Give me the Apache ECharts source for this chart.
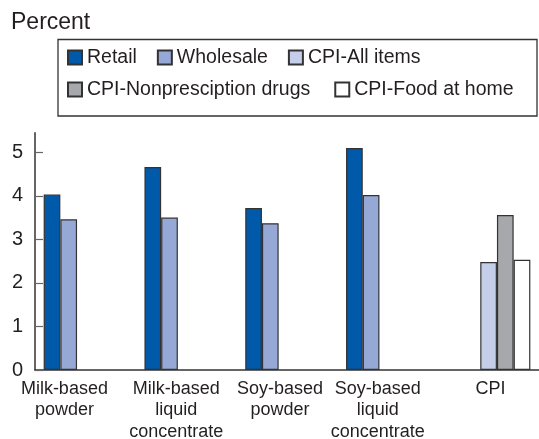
<!DOCTYPE html>
<html>
<head>
<meta charset="utf-8">
<script src="https://cdn.jsdelivr.net/npm/echarts@6/dist/echarts.min.js"></script>
<style>
  html, body { margin: 0; padding: 0; background: #fff; }
  #chart { width: 539px; height: 439px; }
</style>
</head>
<body>
<div id="chart"></div>
<script>
const categories = ['Milk-based\npowder', 'Milk-based\nliquid\nconcentrate', 'Soy-based\npowder', 'Soy-based\nliquid\nconcentrate', 'CPI']
// shift of each label from the centre of its band (px), as laid out in the source
const labelShift = [-21, -10, -7, -10, 2]

const retail = [4.03, 4.66, 3.72, 5.10, null]
const wholesale = [3.46, 3.50, 3.37, 4.02, null]
const cpiAll = [null, null, null, null, 2.48]
const cpiDrugs = [null, null, null, null, 3.56]
const cpiFood = [null, null, null, null, 2.53]

const yTicks = [0, 1, 2, 3, 4, 5]

const font = 'Liberation Sans, Arial, Helvetica, sans-serif'
const ink = '#231f20'
const edge = '#333'

const chart = echarts.init(document.getElementById('chart'))

function bar(name, data, color) {
  return {
    name: name,
    type: 'bar',
    data: data,
    barWidth: 16.7,
    barGap: '0%',
    itemStyle: { color: color, borderColor: edge, borderWidth: 1.2 }
  }
}

chart.setOption({
  animation: false,
  textStyle: { fontFamily: font, color: ink },
  title: {
    text: 'Percent',
    left: 11,
    top: 11,
    padding: 0,
    textStyle: { fontFamily: font, fontSize: 23, fontWeight: 'normal', color: ink }
  },
  graphic: [{
    type: 'rect',
    shape: { x: 58, y: 39.5, width: 479, height: 76.5 },
    style: { fill: 'none', stroke: edge, lineWidth: 1.3 }
  }],
  legend: [{
    data: ['Retail', 'Wholesale', 'CPI-All items'],
    left: 67,
    top: 47.5,
    padding: 0,
    itemWidth: 14,
    itemHeight: 14,
    itemGap: 20,
    icon: 'rect',
    textStyle: { fontFamily: font, fontSize: 19.5, color: ink, lineHeight: 20 }
  }, {
    data: ['CPI-Nonpresciption drugs', 'CPI-Food at home'],
    left: 67,
    top: 79.5,
    padding: 0,
    itemWidth: 14,
    itemHeight: 14,
    itemGap: 24,
    icon: 'rect',
    textStyle: { fontFamily: font, fontSize: 19.5, color: ink, lineHeight: 20 }
  }],
  grid: {
    left: 35,
    right: 0,
    top: 132.7,
    bottom: 69,
    outerBoundsMode: 'none'
  },
  xAxis: {
    type: 'category',
    data: categories.map((c, i) => ({
      value: c,
      textStyle: {
        padding: labelShift[i] < 0 ? [0, -2 * labelShift[i], 0, 0] : [0, 0, 0, 2 * labelShift[i]]
      }
    })),
    axisLine: { lineStyle: { color: edge, width: 1.5 } },
    axisTick: { show: false },
    axisLabel: {
      interval: 0,
      margin: 8,
      fontFamily: font,
      fontSize: 18,
      lineHeight: 21.5,
      color: ink
    }
  },
  yAxis: {
    type: 'value',
    min: 0,
    max: 5.45,
    axisLine: { show: true, lineStyle: { color: edge, width: 1.5 } },
    axisTick: { show: true, inside: true, length: 8, customValues: yTicks, lineStyle: { color: '#666', width: 1.2 } },
    axisLabel: { customValues: yTicks, margin: 12, fontFamily: font, fontSize: 20, color: ink },
    splitLine: { show: false }
  },
  series: [
    bar('Retail', retail, '#0059a9'),
    bar('Wholesale', wholesale, '#96a8d6'),
    bar('CPI-All items', cpiAll, '#c5cee9'),
    bar('CPI-Nonpresciption drugs', cpiDrugs, '#a7a8ab'),
    bar('CPI-Food at home', cpiFood, '#ffffff')
  ]
})
</script>
</body>
</html>
